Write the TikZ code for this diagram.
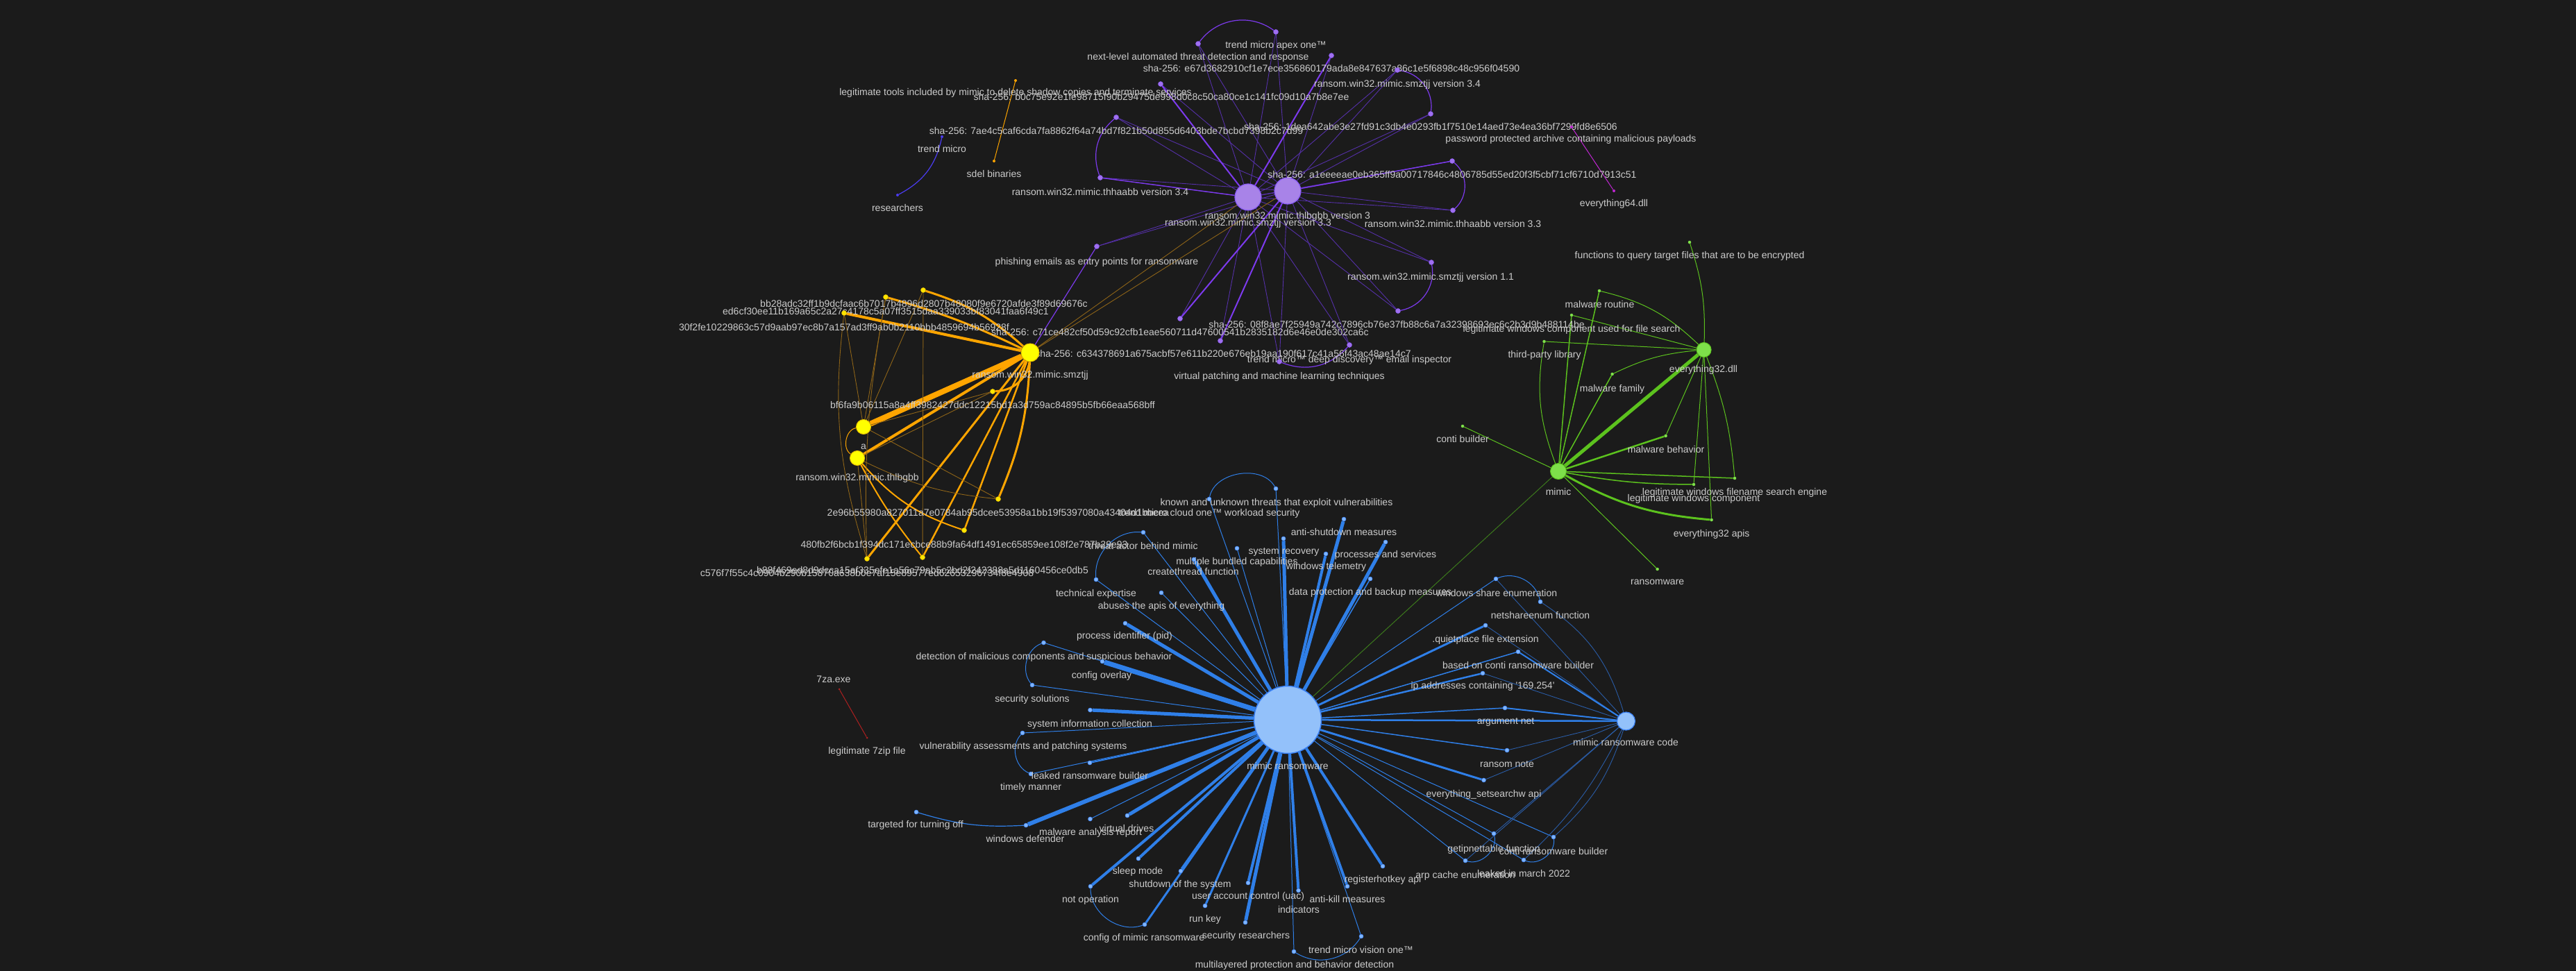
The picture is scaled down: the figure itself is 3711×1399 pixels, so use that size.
\documentclass[tikz,border=0pt]{standalone}
\usepackage{fontspec}
\setmainfont{Liberation Sans}
\definecolor{bgc}{HTML}{1B1B1B}
\definecolor{txt}{HTML}{CCCCCC}
\definecolor{pfill}{HTML}{A883E8}
\definecolor{pborder}{HTML}{8B5CF6}
\definecolor{pdot}{HTML}{A070F0}
\definecolor{pbright}{HTML}{7C3AED}
\definecolor{pdim}{HTML}{5530A8}
\definecolor{yfill}{HTML}{FFFF00}
\definecolor{yborder}{HTML}{E8C000}
\definecolor{ydot}{HTML}{FFE600}
\definecolor{orng}{HTML}{FFA500}
\definecolor{odim}{HTML}{8E6418}
\definecolor{gfill}{HTML}{7EE04A}
\definecolor{gbright}{HTML}{5CC21E}
\definecolor{gdim}{HTML}{3C7A1C}
\definecolor{bfill}{HTML}{93C1FA}
\definecolor{bborder}{HTML}{3B82F6}
\definecolor{bdot}{HTML}{7FB5FF}
\definecolor{bline}{HTML}{2F7FE8}
\definecolor{bdim}{HTML}{2A5CA6}
\definecolor{redc}{HTML}{B02020}
\definecolor{magc}{HTML}{C026D3}
\definecolor{tmc}{HTML}{4B3CF0}
\pgfdeclarelayer{bg}
\pgfdeclarelayer{edges}
\pgfsetlayers{bg,edges,main}
\newcommand\dl[7]{\node[#2] (#1) at (#3,#4) {}; \node[lbl] (#1-l) at (#5,#6) {#7};}
\tikzset{
  lbl/.style={text=txt, font=\fontsize{14}{16}\selectfont, inner sep=0pt, anchor=base, yshift=-5pt},
  dotbase/.style={circle, inner sep=0pt},
  pbig/.style={dotbase, fill=pfill, draw=pborder, line width=1.2pt, minimum size=38pt},
  pdt/.style={dotbase, fill=pdot, draw=pborder, line width=0.5pt, minimum size=7pt},
  ybig/.style={dotbase, fill=yfill, draw=yborder, line width=1pt, minimum size=26pt},
  ymid/.style={dotbase, fill=yfill, draw=yborder, line width=1pt, minimum size=21pt},
  ydt/.style={dotbase, fill=ydot, draw=yborder, line width=0.5pt, minimum size=7pt},
  gbig/.style={dotbase, fill=gfill, draw=gbright, line width=1pt, minimum size=23pt},
  gmid/.style={dotbase, fill=gfill, draw=gbright, line width=1pt, minimum size=21pt},
  gdt/.style={dotbase, fill=gfill, minimum size=4.5pt},
  bbig/.style={dotbase, fill=bfill, draw=bborder, line width=1.5pt, minimum size=97pt},
  bmid/.style={dotbase, fill=bfill, draw=bborder, line width=1.2pt, minimum size=26pt},
  bdt/.style={dotbase, fill=bdot, draw=bborder, line width=0.5pt, minimum size=6pt},
  odt/.style={dotbase, fill=orng, minimum size=4pt},
  mdt/.style={dotbase, fill=magc, minimum size=4pt},
  rdt/.style={dotbase, fill=redc, minimum size=3pt},
  tdt/.style={dotbase, fill=tmc, minimum size=4pt},
  pe/.style={draw=pdim, line width=0.9pt},
  peb/.style={draw=pbright, line width=2pt},
  ye/.style={draw=orng, line width=#1},
  yd/.style={draw=odim, line width=0.9pt},
  ge/.style={draw=gbright, line width=#1},
  be/.style={draw=bline, line width=#1},
  bd/.style={draw=bdim, line width=0.9pt},
}
\begin{document}
\begin{tikzpicture}[x=1pt,y=-1pt]
\begin{pgfonlayer}{bg}
\fill[bgc] (0,0) rectangle (3711,1399);
\end{pgfonlayer}
\useasboundingbox (0,0) rectangle (3711,1399);

% ---------------- purple cluster ----------------
\node[pbig] (p33) at (1798,284) {};
\node[lbl] (p33-l) at (1798,320) {ransom.win32.mimic.smztjj version 3.3};
\node[pbig] (p3) at (1855,275) {};
\node[lbl] (p3-l) at (1855,310) {ransom.win32.mimic.thlbgbb version 3};
\dl{pnext}{pdt}{1726}{63}{1726}{82}{next-level automated threat detection and response}
\dl{papex}{pdt}{1838}{46}{1838}{65}{trend micro apex one™}
\dl{pe67}{pdt}{1918}{80}{1918}{99}{sha-256: e67d3682910cf1e7ece356860179ada8e847637a86c1e5f6898c48c956f04590}
\dl{ps34}{pdt}{2013}{101}{2013}{121}{ransom.win32.mimic.smztjj version 3.4}
\dl{p1dea}{pdt}{2061}{164}{2061}{183}{sha-256: 1dea642abe3e27fd91c3db4e0293fb1f7510e14aed73e4ea36bf7299fd8e6506}
\dl{pb0c}{pdt}{1672}{121}{1673}{140}{sha-256: b0c75e92e1fe98715f90b29475de998d0c8c50ca80ce1c141fc09d10a7b8e7ee}
\dl{p7ae}{pdt}{1608}{169}{1608}{189}{sha-256: 7ae4c5caf6cda7fa8862f64a74bd7f821b50d855d6403bde7bcbd7398b2c7d99}
\dl{ph34}{pdt}{1585}{256}{1585}{276}{ransom.win32.mimic.thhaabb version 3.4}
\dl{pa1e}{pdt}{2092}{232}{2092}{252}{sha-256: a1eeeeae0eb365ff9a00717846c4806785d55ed20f3f5cbf71cf6710d7913c51}
\dl{ph33}{pdt}{2093}{303}{2093}{322}{ransom.win32.mimic.thhaabb version 3.3}
\dl{ps11}{pdt}{2062}{378}{2061}{398}{ransom.win32.mimic.smztjj version 1.1}
\dl{p08f}{pdt}{2014}{448}{2012}{467}{sha-256: 08f8ae7f25949a742c7896cb76e37fb88c6a7a32398693ec6c2b3d9b488114be}
\dl{pc71}{pdt}{1700}{459}{1700}{478}{sha-256: c71ce482cf50d59c92cfb1eae560711d47600541b2835182d6e46e0de302ca6c}
\dl{pc63}{pdt}{1758}{491}{1762}{509}{sha-256: c634378691a675acbf57e611b220e676eb19aa190f617c41a56f43ac48ae14c7}
\dl{pdd}{pdt}{1944}{497}{1944}{517}{trend micro™ deep discovery™ email inspector}
\dl{pvp}{pdt}{1843}{521}{1843}{541}{virtual patching and machine learning techniques}
\dl{pph}{pdt}{1580}{355}{1580}{376}{phishing emails as entry points for ransomware}
\dl{otool}{odt}{1463}{116}{1463}{133}{legitimate tools included by mimic to delete shadow copies and terminate services}
\dl{osdel}{odt}{1432}{232}{1432}{250}{sdel binaries}
\dl{ptm}{tdt}{1357}{197}{1357}{215}{trend micro}
\dl{pres}{tdt}{1293}{281}{1293}{299}{researchers}
\dl{mpw}{mdt}{2264}{183}{2263}{200}{password protected archive containing malicious payloads}
\dl{me64}{mdt}{2325}{275}{2325}{293}{everything64.dll}

% ---------------- yellow cluster ----------------
\node[ybig] (ysm) at (1484,508) {};
\node[lbl] (ysm-l) at (1484,539) {ransom.win32.mimic.smztjj};
\node[ymid] (ya) at (1244,615) {};
\node[lbl] (ya-l) at (1244,642) {a};
\node[ymid] (ythl) at (1235,660) {};
\node[lbl] (ythl-l) at (1235,687) {ransom.win32.mimic.thlbgbb};
\dl{ybb}{ydt}{1330}{418}{1331}{437}{bb28adc32ff1b9dcfaac6b7017b4896d2807b48080f9e6720afde3f89d69676c}
\dl{yed}{ydt}{1276}{428}{1276}{448}{ed6cf30ee11b169a65c2a27c4178c5a07ff3515daa339033bf83041faa6f49c1}
\dl{y30}{ydt}{1216}{451}{1216}{471}{30f2fe10229863c57d9aab97ec8b7a157ad3ff9ab0b2110bbb4859694b56928f}
\dl{ybf}{ydt}{1430}{564}{1430}{583}{bf6fa9b06115a8a4ff3982427ddc12215bd1a3d759ac84895b5fb66eaa568bff}
\dl{y2e}{ydt}{1438}{719}{1438}{738}{2e96b55980a827011a7e0784ab95dcee53958a1bb19f5397080a43404d1bbeea}
\dl{y48}{ydt}{1389}{764}{1389}{784}{480fb2f6bcb1f394dc171ecbce88b9fa64df1491ec65859ee108f2e787b29e93}
\dl{yb8}{ydt}{1329}{803}{1329}{821}{b88f469ed8d9dcca15af335efe1a56c79ab5c2bd2f242388a5d1160456ce0db5}
\dl{yc5}{ydt}{1249}{805}{1249}{825}{c576f7f55c4c0904b290b15870a638b0e7af15e89577ed62653296734f8e4908}

% ---------------- green cluster ----------------
\node[gmid] (gdll) at (2454.6,504) {};
\node[lbl] (gdll-l) at (2454,531) {everything32.dll};
\node[gbig] (gmim) at (2245,679) {};
\node[lbl] (gmim-l) at (2245,708) {mimic};
\dl{gfq}{gdt}{2434}{349}{2434}{367}{functions to query target files that are to be encrypted}
\dl{gmr}{gdt}{2304}{419}{2304.5}{438}{malware routine}
\dl{glc}{gdt}{2264}{454}{2264}{473}{legitimate windows component used for file search}
\dl{gtp}{gdt}{2224.5}{492}{2225}{510}{third-party library}
\dl{gmf}{gdt}{2322.6}{539}{2322.5}{559}{malware family}
\dl{gcb}{gdt}{2107}{614}{2107}{632}{conti builder}
\dl{gmb}{gdt}{2399.6}{628}{2400}{647}{malware behavior}
\dl{gfs}{gdt}{2499}{689}{2499}{708}{legitimate windows filename search engine}
\dl{gwc}{gdt}{2440}{698}{2440}{717}{legitimate windows component}
\dl{gapi}{gdt}{2465.6}{749}{2465.6}{768}{everything32 apis}
\dl{grw}{gdt}{2387.6}{820}{2387.7}{837}{ransomware}

% ---------------- red ----------------
\node[rdt] (r7za) at (1209,993) {};
\node[lbl] (r7za-l) at (1201,978) {7za.exe};
\dl{r7zip}{rdt}{1249}{1063}{1249}{1081}{legitimate 7zip file}

% ---------------- blue cluster ----------------
\node[bbig] (bbig) at (1855,1037) {};
\node[lbl] (bbig-l) at (1855,1103) {mimic ransomware};
\node[bmid] (bcode) at (2342.5,1039) {};
\node[lbl] (bcode-l) at (2342,1069) {mimic ransomware code};
\dl{bkn}{bdt}{1838}{704}{1839}{723}{known and unknown threats that exploit vulnerabilities}
\dl{bcl}{bdt}{1742}{719}{1742}{738}{trend micro cloud one™ workload security}
\dl{bta}{bdt}{1647}{767}{1647}{786}{threat actor behind mimic}
\dl{bte}{bdt}{1579}{835}{1579}{854}{technical expertise}
\dl{bab}{bdt}{1673}{854}{1673}{872}{abuses the apis of everything}
\dl{bmb}{bdt}{1782}{790}{1782}{808}{multiple bundled capabilities}
\dl{bct}{bdt}{1720}{806}{1719}{823}{createthread function}
\dl{bsr}{bdt}{1849}{776}{1849.5}{793}{system recovery}
\dl{bas}{bdt}{1936}{748}{1936}{766}{anti-shutdown measures}
\dl{bwt}{bdt}{1910}{798}{1910.5}{815}{windows telemetry}
\dl{bps}{bdt}{1996}{781}{1996}{798}{processes and services}
\dl{bdp}{bdt}{1974}{834}{1974}{852}{data protection and backup measures}
\dl{bpid}{bdt}{1621}{898}{1620}{915}{process identifier (pid)}
\dl{bdm}{bdt}{1503.5}{926}{1504}{945}{detection of malicious components and suspicious behavior}
\dl{bco}{bdt}{1588}{953}{1587}{972}{config overlay}
\dl{bss}{bdt}{1487}{987}{1487}{1006}{security solutions}
\dl{bsi}{bdt}{1570.5}{1023}{1570}{1042}{system information collection}
\dl{bva}{bdt}{1473}{1056}{1474}{1074}{vulnerability assessments and patching systems}
\dl{btm}{bdt}{1485}{1115}{1485}{1133}{timely manner}
\dl{blr}{bdt}{1570}{1099}{1570}{1117}{leaked ransomware builder}
\dl{bwd}{bdt}{1478}{1189}{1477}{1208}{windows defender}
\dl{btt}{bdt}{1320}{1170}{1319}{1187}{targeted for turning off}
\dl{bmr}{bdt}{1570.5}{1180}{1571}{1198}{malware analysis report}
\dl{bvd}{bdt}{1624}{1175}{1623}{1193}{virtual drives}
\dl{bsl}{bdt}{1640}{1237}{1639}{1254}{sleep mode}
\dl{bno}{bdt}{1571}{1277}{1571}{1295}{not operation}
\dl{bsd}{bdt}{1701}{1255}{1700}{1273}{shutdown of the system}
\dl{bcm}{bdt}{1649}{1332}{1648}{1350}{config of mimic ransomware}
\dl{brk}{bdt}{1736}{1305}{1736}{1323}{run key}
\dl{buac}{bdt}{1798}{1272}{1798}{1290}{user account control (uac)}
\dl{bsec}{bdt}{1794}{1329}{1795}{1347}{security researchers}
\dl{bind}{bdt}{1870.5}{1283}{1871}{1310}{indicators}
\dl{bak}{bdt}{1941}{1277}{1941}{1295}{anti-kill measures}
\dl{brh}{bdt}{1992}{1248}{1992}{1266}{registerhotkey api}
\dl{bml}{bdt}{1864}{1371}{1865}{1389}{multilayered protection and behavior detection}
\dl{bvo}{bdt}{1961}{1349}{1960.5}{1368}{trend micro vision one™}
\dl{barp}{bdt}{2111}{1240}{2111}{1260}{arp cache enumeration}
\dl{bgip}{bdt}{2152}{1201}{2152}{1222}{getipnettable function}
\dl{bcrb}{bdt}{2238}{1206}{2238}{1226}{conti ransomware builder}
\dl{blm}{bdt}{2195}{1239}{2195}{1258}{leaked in march 2022}
\dl{bsw}{bdt}{2137.5}{1124}{2137.5}{1143}{everything\_setsearchw api}
\dl{brn}{bdt}{2171}{1081}{2171}{1100}{ransom note}
\dl{bwse}{bdt}{2155}{834}{2156}{854}{windows share enumeration}
\dl{bnse}{bdt}{2219}{867}{2219}{886}{netshareenum function}
\dl{bqp}{bdt}{2140}{901}{2140}{920}{.quietplace file extension}
\dl{bbc}{bdt}{2187}{939}{2187}{958}{based on conti ransomware builder}
\dl{bip}{bdt}{2136}{970}{2136}{987}{ip addresses containing \textquotesingle 169.254\textquotesingle}
\dl{ban}{bdt}{2168}{1020}{2169}{1038}{argument net}

% ================= edges =================
\begin{pgfonlayer}{edges}
% purple
\foreach \n in {pnext,papex,pe67,ps34,p1dea,pb0c,p7ae,ph34,pa1e,ph33,ps11,p08f,pc71,pc63,pdd,pvp,pph} {
  \draw[pe] (\n) -- (p33);
  \draw[pe] (\n) -- (p3);
}
\draw[pe] (p33) -- (p3);
\draw[peb] (pb0c) -- (p33);
\draw[peb] (pe67) -- (p33);
\draw[peb] (pc71) -- (p3);
\draw[peb] (pc63) -- (p3);
\draw[peb, line width=1.4pt] (pa1e) -- (p3);
\draw[peb, line width=1.4pt] (ph34) -- (p33);
\draw[peb, line width=1.2pt] (pph) -- (ysm);
\draw[draw=pbright, line width=1.2pt] (pnext) to[bend left=45] (papex);
\draw[draw=pbright, line width=1.2pt] (ps34) to[bend left=45] (p1dea);
\draw[draw=pbright, line width=1.2pt] (p7ae) to[bend right=35] (ph34);
\draw[draw=pbright, line width=1.2pt] (pa1e) to[bend left=50] (ph33);
\draw[draw=pbright, line width=1.2pt] (ps11) to[bend left=45] (p08f);
\draw[draw=pbright, line width=1.2pt] (pdd) to[bend left=35] (pvp);
\draw[draw=orng, line width=1pt] (otool) -- (osdel);
\draw[draw=tmc, line width=1.2pt] (ptm) to[bend left=25] (pres);
\draw[draw=magc, line width=1pt] (mpw) -- (me64);
\draw[yd] (ysm) -- (p33);
\draw[yd] (ysm) -- (p3);
% yellow
\draw[ye=3pt] (ybb) to[bend left=12] (ysm);
\draw[ye=3pt] (yed) to[bend left=5] (ysm);
\draw[ye=4pt] (y30) -- (ysm);
\draw[ye=8pt] (ya) -- (ysm);
\draw[ye=4pt] (ythl) -- (ysm);
\draw[ye=3pt] (ysm) to[bend left=40] (ybf);
\draw[ye=3pt] (ysm) to[bend left=10] (y2e);
\draw[ye=2.5pt] (ysm) -- (y48);
\draw[ye=2.5pt] (ysm) -- (yb8);
\draw[ye=3pt] (ysm) -- (yc5);
\draw[yd] (ya) -- (ybf);
\draw[yd] (ya) -- (y2e);
\draw[yd] (ya) -- (ybb);
\draw[yd] (ya) -- (yed);
\draw[yd] (ya) -- (y30);
\draw[ye=1pt] (ya) to[bend right=70] (ythl);
\draw[ye=2pt] (ythl) to[bend right=15] (y48);
\draw[ye=2pt] (ythl) to[bend right=5] (yb8);
\draw[yd] (ythl) -- (yc5);
\draw[yd] (ythl) to[bend right=10] (y2e);
\draw[yd] (ythl) -- (ybf);
\draw[yd] (y30) to[bend right=12] (yc5);
\draw[yd] (yed) to[bend right=6] (yc5);
\draw[yd] (ybb) -- (yb8);
% green
\draw[ge=5pt] (gmim) -- (gdll);
\draw[ge=1.5pt] (gmim) -- (gmr);
\draw[ge=1.5pt] (gmim) -- (glc);
\draw[ge=1pt] (gmim) to[bend left=15] (gtp);
\draw[ge=1.5pt] (gmim) -- (gmf);
\draw[ge=2.5pt] (gmim) -- (gmb);
\draw[ge=1pt] (gmim) -- (gcb);
\draw[ge=1.5pt] (gmim) -- (gfs);
\draw[ge=1.5pt] (gmim) to[bend right=5] (gwc);
\draw[ge=3pt] (gmim) to[bend right=12] (gapi);
\draw[ge=1pt] (gmim) -- (grw);
\draw[draw=gdim, line width=1pt] (gmim) -- (bbig);
\draw[ge=1pt] (gfq) to[bend left=10] (gdll);
\draw[ge=1pt] (gmr) to[bend left=15] (gdll);
\draw[ge=1pt] (glc) -- (gdll);
\draw[ge=1pt] (gtp) -- (gdll);
\draw[ge=1pt] (gmf) to[bend left=10] (gdll);
\draw[ge=1pt] (gmb) -- (gdll);
\draw[ge=1pt] (gdll) to[bend left=8] (gfs);
\draw[ge=1pt] (gdll) -- (gwc);
\draw[ge=1pt] (gdll) -- (gapi);
% red
\draw[draw=redc, line width=1pt] (r7za) -- (r7zip);
% blue from big node
\foreach \n/\w in {bkn/1,bcl/1,bta/1,bte/1,bab/1,bmb/1,bct/5,bsr/5,bas/5,bwt/4,bps/5,bdp/1.5,
  bpid/5,bdm/1,bco/7,bss/1,bsi/5,bva/1,blr/2,btm/1,bwd/6,bmr/1,bvd/5,bsl/4,bno/4,bsd/5,bcm/3,
  brk/3,buac/4,bsec/5,bind/4,bak/4,brh/4,bml/1,bvo/1,barp/1,bgip/1,bcrb/1,blm/1,bsw/3,brn/1.5,
  ban/1.5,bip/2.5,bbc/1.5,bqp/3,bwse/1} {
  \draw[be=\w pt] (bbig) -- (\n);
}
\draw[be=2.5pt] (bbig) -- (bcode);
\draw[bd] (bwse) -- (bcode);
\draw[bd] (bnse) to[bend left=20] (bcode);
\draw[bd] (bqp) -- (bcode);
\draw[be=2pt] (bbc) -- (bcode);
\draw[bd] (bip) -- (bcode);
\draw[be=2pt] (ban) -- (bcode);
\draw[bd] (brn) -- (bcode);
\draw[bd] (bsw) -- (bcode);
\draw[bd] (bgip) -- (bcode);
\draw[bd] (barp) -- (bcode);
\draw[bd] (bcrb) to[bend right=15] (bcode);
\draw[bd] (blm) to[bend right=10] (bcode);
% blue arcs
\draw[be=1pt] (bcl) to[bend left=70] (bkn);
\draw[be=1pt] (bta) to[bend right=50] (bte);
\draw[be=1pt] (bdm) to[bend right=55] (bss);
\draw[be=1pt] (bva) to[bend right=55] (btm);
\draw[be=1.2pt] (btt) to[bend right=10] (bwd);
\draw[be=1pt] (bno) to[bend right=55] (bcm);
\draw[be=1pt] (bml) to[bend right=45] (bvo);
\draw[be=1pt] (barp) to[bend right=60] (bgip);
\draw[be=1pt] (blm) to[bend right=60] (bcrb);
\draw[be=1pt] (bwse) to[bend left=50] (bnse);
\end{pgfonlayer}
\end{tikzpicture}
\end{document}
